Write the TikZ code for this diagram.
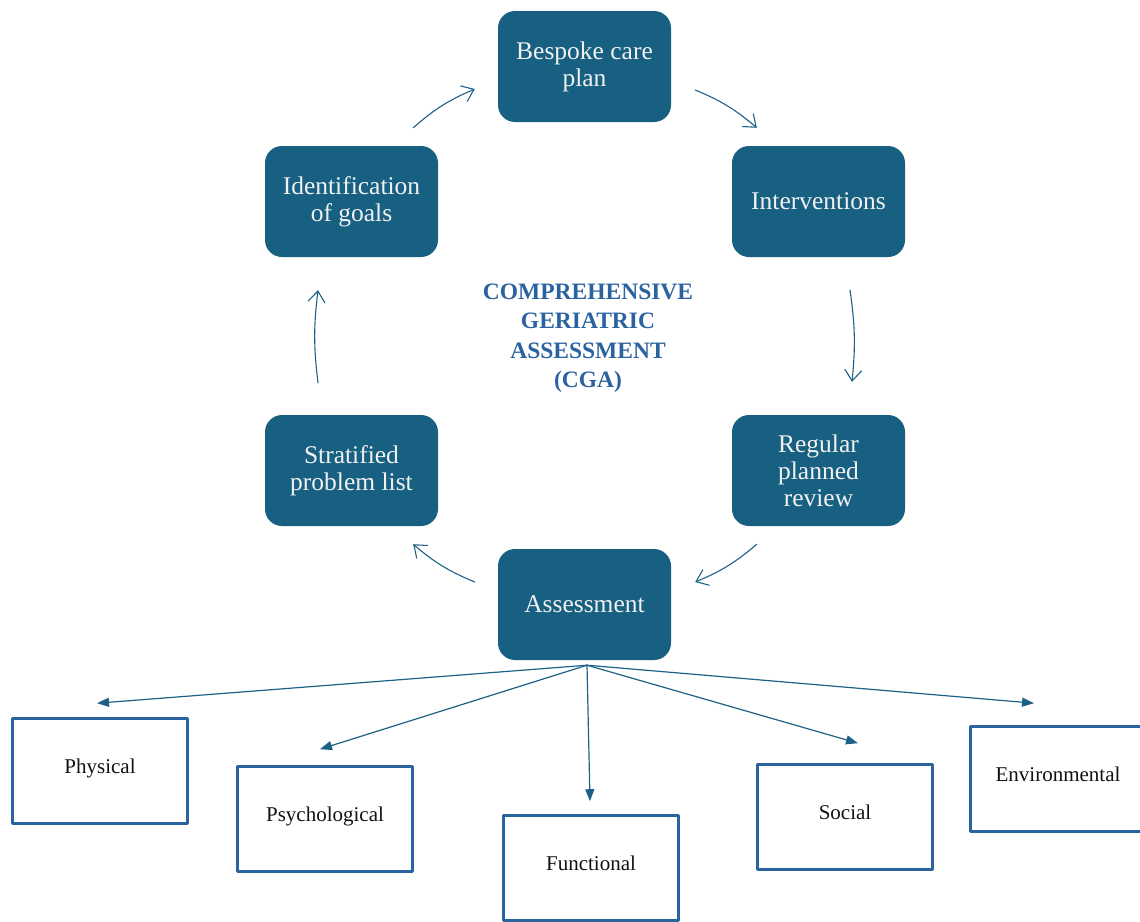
\documentclass[tikz,border=0pt]{standalone}
\usepackage{fontspec}
\setmainfont{Liberation Serif}
\usetikzlibrary{arrows.meta,positioning}
\definecolor{cgaTeal}{HTML}{176082}
\definecolor{cgaBlue}{HTML}{2B63A1}
\definecolor{cgaLine}{HTML}{1E6186}
\definecolor{cgaInk}{HTML}{111111}

\begin{document}
\begin{tikzpicture}[x=1pt,y=-1pt,line cap=round,line join=round]
\path[fill=white] (0,0) rectangle (1140,921);
\useasboundingbox (0,0) rectangle (1140,921);
\tikzset{stage/.style={fill=cgaTeal,text=white!94!black,rounded corners=17pt,minimum width=173pt,minimum height=111pt,align=center,font=\fontsize{25.5}{27}\selectfont},areabox/.style={draw=cgaBlue,line width=2.6pt,fill=white,text=cgaInk,minimum width=175pt,minimum height=105pt,text height=15pt,text depth=11pt,font=\fontsize{21}{24}\selectfont},ringarrow/.style={draw=cgaLine,line width=1.1pt,-{Straight Barb[length=11pt,width=17pt]}},spoke/.style={draw=cgaLine,line width=1.2pt,-{Triangle[length=12pt,width=9pt]}}}
% the care cycle
\node[stage] (bespoke) at (584.5,66.5) {Bespoke care\\plan};
\node[stage] (interv) at (818.5,201.5) {Interventions};
\node[stage] (review) at (818.5,470.5) {Regular\\planned\\review};
\node[stage] (assess) at (584.5,604.5) {Assessment};
\node[stage] (strat) at (351.5,470.5) {Stratified\\problem list};
\node[stage] (goals) at (351.5,201.5) {Identification\\of goals};
\node[text=cgaBlue,font=\bfseries\fontsize{23.5}{29.5}\selectfont,align=center] (cga) at (588,338) {COMPREHENSIVE\\GERIATRIC\\ASSESSMENT\\(CGA)};
\draw[ringarrow] ([shift={(-25,-18)}]goals.north east) to[bend left=9] ([shift={(-23,22.5)}]bespoke.west);
\draw[ringarrow] ([shift={(24,23.5)}]bespoke.east) to[bend left=9] ([shift={(25,-18)}]interv.north west);
\draw[ringarrow] ([shift={(31.5,33)}]interv.south) to[bend left=7] ([shift={(33.5,-33)}]review.north);
\draw[ringarrow] ([shift={(25,18)}]review.south west) to[bend left=9] ([shift={(24,-22.5)}]assess.east);
\draw[ringarrow] ([shift={(-23,-22.5)}]assess.west) to[bend left=9] ([shift={(-25,18)}]strat.south east);
\draw[ringarrow] ([shift={(-33.5,-32)}]strat.north) to[bend left=7] ([shift={(-33.5,33)}]goals.south);
% assessment areas
\node[areabox] (phys) at (100,771) {Physical};
\node[areabox] (psych) at (325,819) {Psychological};
\node[areabox] (func) at (591,868) {Functional};
\node[areabox] (social) at (845,817) {Social};
\node[areabox] (env) at (1058,779) {Environmental};
\coordinate (hub) at ([shift={(2.5,5)}]assess.south);
\draw[spoke] (hub) -- ([shift={(-3,-14)}]phys.north);
\draw[spoke] (hub) -- ([shift={(-5,-16)}]psych.north);
\draw[spoke] (hub) -- ([shift={(-1,-13)}]func.north);
\draw[spoke] (hub) -- ([shift={(13,-20)}]social.north);
\draw[spoke] (hub) -- ([shift={(-24,-22)}]env.north);
\end{tikzpicture}
\end{document}
